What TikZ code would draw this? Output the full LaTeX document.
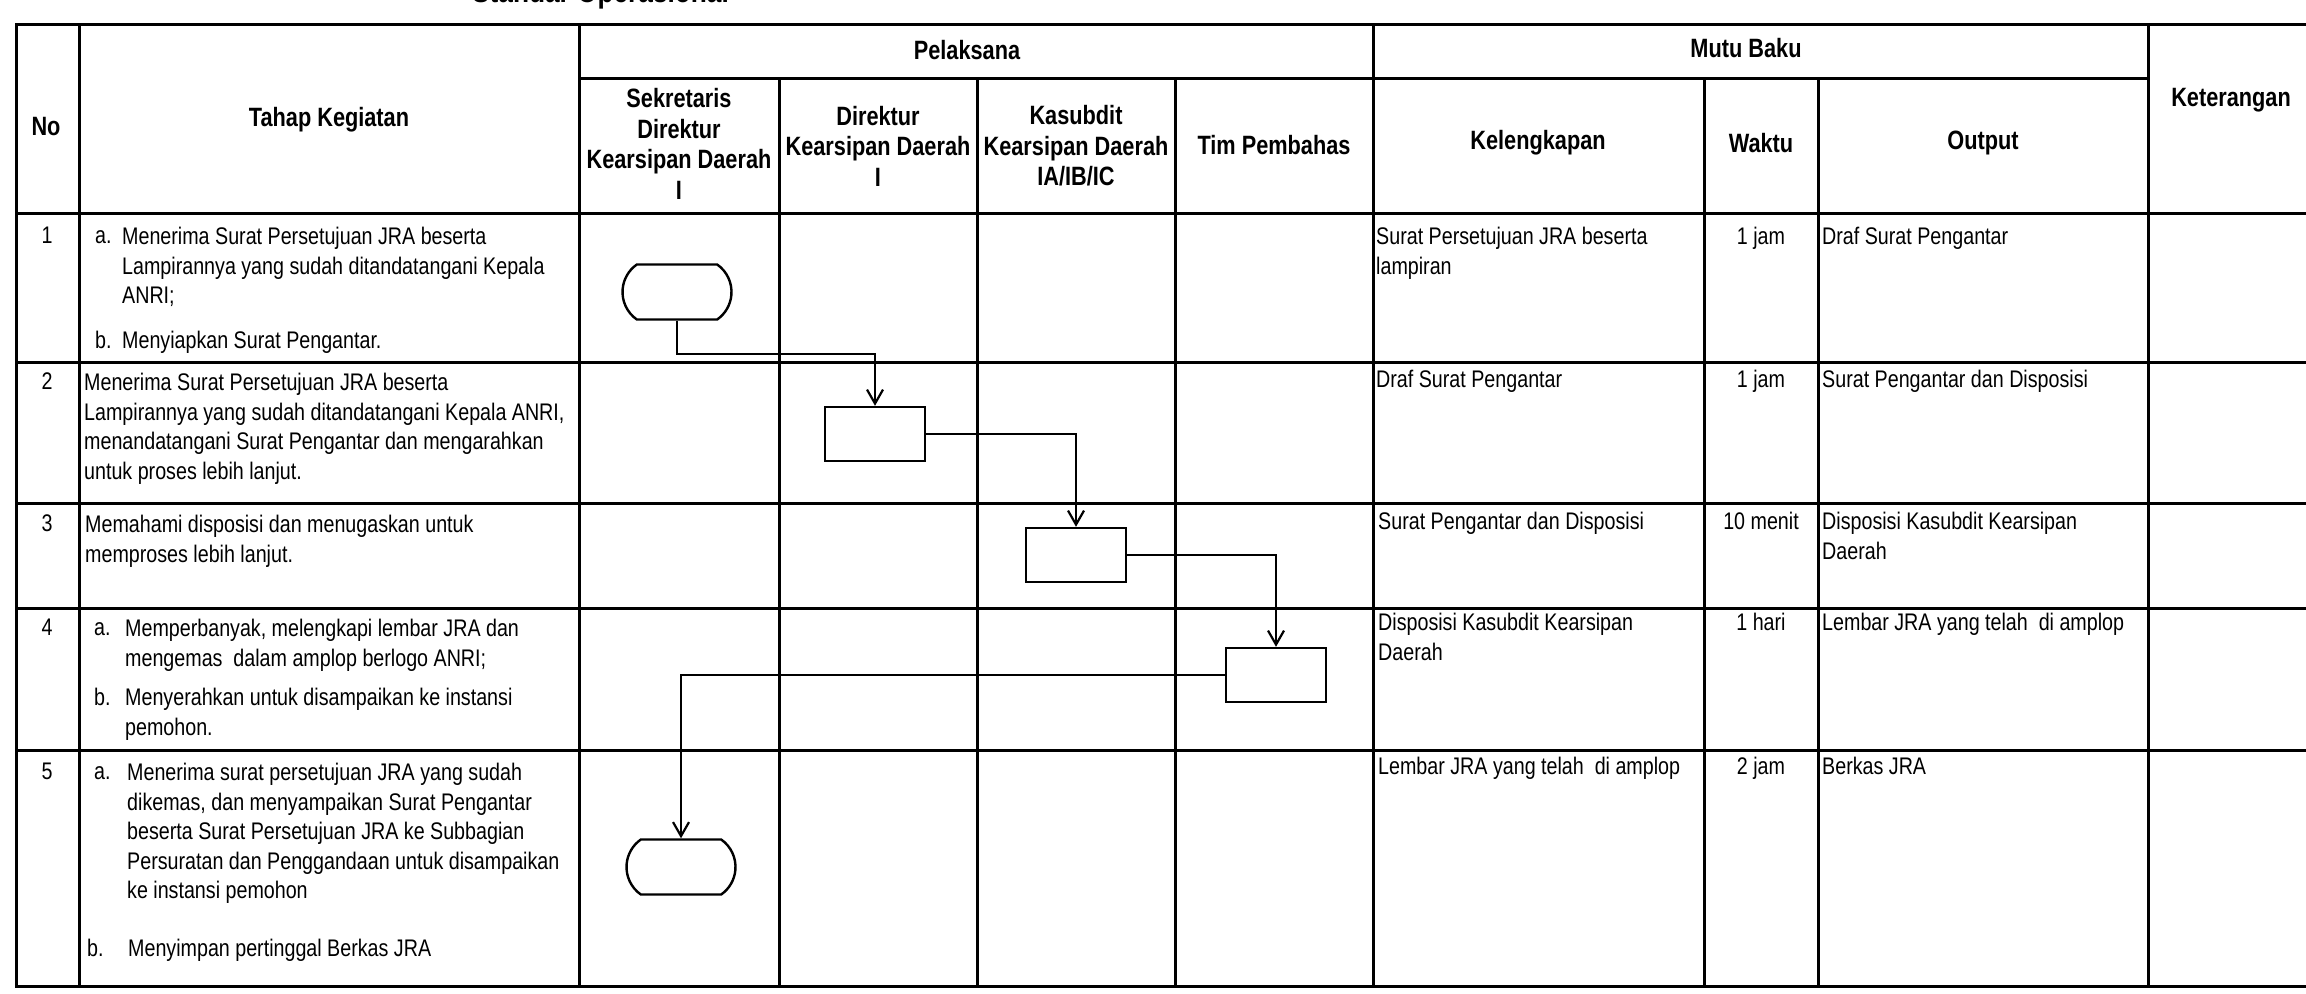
\documentclass[tikz,border=0pt]{standalone}
\usepackage{fontspec}
\setmainfont{Liberation Sans}[FakeStretch=0.82]
\usetikzlibrary{arrows.meta}
\usetikzlibrary{shapes.misc}

\newcommand{\bodyfont}{\fontsize{24}{29.5}\selectfont}
\newcommand{\headfont}{\fontsize{26.5}{30.5}\selectfont\bfseries}

\tikzset{
  tabline/.style={line width=3pt, line cap=rect},
  head/.style={font=\headfont, align=center, inner sep=0pt},
  cell/.style={font=\bodyfont, align=left, anchor=north west, inner sep=0pt},
  lbl/.style={cell, execute at begin node=\vphantom{M}},
  num/.style={font=\bodyfont, anchor=north, inner sep=0pt},
  proc/.style={draw, line width=2.4pt, minimum width=100pt, minimum height=54pt, inner sep=0pt},
  term/.style={draw, line width=2.4pt, rounded rectangle, rounded rectangle arc length=110,
    minimum width=109pt, minimum height=55pt, inner sep=0pt},
  flow/.style={line width=2.2pt, -{Straight Barb[length=14pt,width=16pt]}}
}

\begin{document}
\begin{tikzpicture}[x=1pt, y=-1pt]
  \useasboundingbox (0,0) rectangle (2306,993);
  \node[font=\fontsize{32}{32}\selectfont\bfseries, anchor=base west, inner sep=0pt] (judul) at (472,2) {Standar Operasional};

  \draw[tabline] (16,24) -- (2306,24);
  \draw[tabline] (579,78) -- (2148,78);
  \foreach \y in {213,362,503,608,750,986}
    \draw[tabline] (16,\y) -- (2306,\y);
  \foreach \x in {16,79,579,1373,2148}
    \draw[tabline] (\x,24) -- (\x,986);
  \foreach \x in {779,977,1175,1704,1818}
    \draw[tabline] (\x,78) -- (\x,986);

  \node[head] (hno) at (46,127) {No};
  \node[head] (htahap) at (329,120) {Tahap Kegiatan};
  \node[head] (hpelaksana) at (967,50) {Pelaksana};
  \node[head] (hmutu) at (1746,48) {Mutu Baku};
  \node[head] (hket) at (2231,100) {Keterangan};
  \node[head] (hsek) at (679,144) {Sekretaris\\Direktur\\Kearsipan Daerah\\I};
  \node[head] (hdir) at (878,146) {Direktur\\Kearsipan Daerah\\I};
  \node[head] (hkas) at (1076,146) {Kasubdit\\Kearsipan Daerah\\IA/IB/IC};
  \node[head] (htim) at (1274,145) {Tim Pembahas};
  \node[head] (hkel) at (1538,143) {Kelengkapan};
  \node[head] (hwaktu) at (1761,143) {Waktu};
  \node[head] (houtput) at (1983,143) {Output};

  \node[num] (no1) at (47,227) {1};
  \node[lbl] (a1) at (95,227) {a.};
  \node[cell] (tahap1a) at (122,227) {Menerima Surat Persetujuan JRA beserta\\Lampirannya yang sudah ditandatangani Kepala\\ANRI;};
  \node[lbl] (b1) at (95,331) {b.};
  \node[cell] (tahap1b) at (122,331) {Menyiapkan Surat Pengantar.};

  \node[num] (no2) at (47,373) {2};
  \node[cell] (tahap2) at (84,373) {Menerima Surat Persetujuan JRA beserta\\Lampirannya yang sudah ditandatangani Kepala ANRI,\\menandatangani Surat Pengantar dan mengarahkan\\untuk proses lebih lanjut.};

  \node[num] (no3) at (47,515) {3};
  \node[cell] (tahap3) at (85,515) {Memahami disposisi dan menugaskan untuk\\memproses lebih lanjut.};

  \node[num] (no4) at (47,619) {4};
  \node[lbl] (a4) at (94,619) {a.};
  \node[cell] (tahap4a) at (125,619) {Memperbanyak, melengkapi lembar JRA dan\\mengemas\ \ dalam amplop berlogo ANRI;};
  \node[lbl] (b4) at (94,688) {b.};
  \node[cell] (tahap4b) at (125,688) {Menyerahkan untuk disampaikan ke instansi\\pemohon.};

  \node[num] (no5) at (47,763) {5};
  \node[lbl] (a5) at (94,763) {a.};
  \node[cell] (tahap5a) at (127,763) {Menerima surat persetujuan JRA yang sudah\\dikemas, dan menyampaikan Surat Pengantar\\beserta Surat Persetujuan JRA ke Subbagian\\Persuratan dan Penggandaan untuk disampaikan\\ke instansi pemohon};
  \node[lbl] (b5) at (87,939) {b.};
  \node[cell] (tahap5b) at (128,939) {Menyimpan pertinggal Berkas JRA};

  \node[cell] (kel1) at (1376,227) {Surat Persetujuan JRA beserta\\lampiran};
  \node[num] (waktu1) at (1761,227) {1 jam};
  \node[cell] (out1) at (1822,227) {Draf Surat Pengantar};
  \node[cell] (kel2) at (1376,370) {Draf Surat Pengantar};
  \node[num] (waktu2) at (1761,370) {1 jam};
  \node[cell] (out2) at (1822,370) {Surat Pengantar dan Disposisi};
  \node[cell] (kel3) at (1378,512) {Surat Pengantar dan Disposisi};
  \node[num] (waktu3) at (1761,512) {10 menit};
  \node[cell] (out3) at (1822,512) {Disposisi Kasubdit Kearsipan\\Daerah};
  \node[cell] (kel4) at (1378,613) {Disposisi Kasubdit Kearsipan\\Daerah};
  \node[num] (waktu4) at (1761,613) {1 hari};
  \node[cell] (out4) at (1822,613) {Lembar JRA yang telah\ \ di amplop};
  \node[cell] (kel5) at (1378,757) {Lembar JRA yang telah\ \ di amplop};
  \node[num] (waktu5) at (1761,757) {2 jam};
  \node[cell] (out5) at (1822,757) {Berkas JRA};

  \node[term] (mulai) at (677,292) {};
  \node[proc] (direktur) at (875,434) {};
  \node[proc] (kasubdit) at (1076,555) {};
  \node[proc] (tim) at (1276,675) {};
  \node[term] (selesai) at (681,867) {};

  \draw[flow] (mulai.south) -- ++(0,33) -| (direktur.north);
  \draw[flow] (direktur.east) -| (kasubdit.north);
  \draw[flow] (kasubdit.east) -| (tim.north);
  \draw[flow] (tim.west) -| (selesai.north);
\end{tikzpicture}
\end{document}
